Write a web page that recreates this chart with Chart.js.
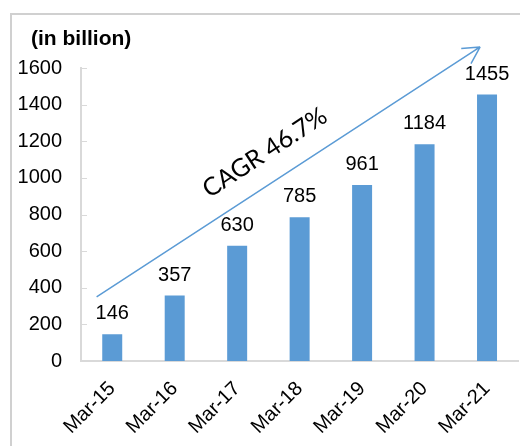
<!DOCTYPE html>
<html lang="en">

<head>
    <meta charset="UTF-8">
    <title>CAGR 46.7%</title>
    <script src="https://cdn.jsdelivr.net/npm/chart.js"></script>
    <style>
        body {
            margin: 0;
            background: #fff;
            overflow: hidden;
        }

        .quadro {
            position: absolute;
            left: 10px;
            top: 13px;
            width: 520px;
            height: 440px;
            border-top: 2px solid #d0d0d0;
            border-left: 2px solid #d0d0d0;
        }

        .grafico {
            position: relative;
            width: 520px;
            height: 446px;
        }
    </style>
</head>

<body>
    <div class="quadro"></div>
    <div class="grafico">
        <canvas id="myChart"></canvas>
    </div>
    <script>
        const anos = ['Mar-15', 'Mar-16', 'Mar-17', 'Mar-18', 'Mar-19', 'Mar-20', 'Mar-21'];
        const valores = [146, 357, 630, 785, 961, 1184, 1455];
        const ticksY = [0, 200, 400, 600, 800, 1000, 1200, 1400, 1600];
        const titulo = '(in billion)';
        const textoCagr = 'CAGR 46.7%';

        const azul = '#5b9bd5';
        const cinza = '#d9d9d9';
        const fonte = '"Liberation Sans", Arial, sans-serif';

        // seta do CAGR, em coordenadas do grafico (indice da categoria, valor)
        const setaInicio = { x: -0.25, y: 350 };
        const setaFim = { x: 5.89, y: 1715 };

        const extras = {
            id: 'extras',
            afterDraw(chart) {
                const ctx = chart.ctx;
                const x = chart.scales.x;
                const y = chart.scales.y;
                ctx.save();

                // tracinhos do eixo y, para dentro
                ctx.strokeStyle = cinza;
                ctx.lineWidth = 1;
                ticksY.forEach(v => {
                    const py = Math.round(y.getPixelForValue(v)) + 0.5;
                    ctx.beginPath();
                    ctx.moveTo(x.left, py);
                    ctx.lineTo(x.left + 6, py);
                    ctx.stroke();
                });

                // valores em cima das barras
                ctx.fillStyle = '#000';
                ctx.font = '20px ' + fonte;
                ctx.textAlign = 'center';
                ctx.textBaseline = 'alphabetic';
                chart.getDatasetMeta(0).data.forEach((bar, i) => {
                    ctx.fillText(valores[i], bar.x, bar.y - 15);
                });

                // titulo
                ctx.font = 'bold 21px ' + fonte;
                ctx.textAlign = 'left';
                ctx.fillText(titulo, 31, 45);

                // seta
                const x0 = x.getPixelForValue(setaInicio.x);
                const y0 = y.getPixelForValue(setaInicio.y);
                const x1 = x.getPixelForValue(setaFim.x);
                const y1 = y.getPixelForValue(setaFim.y);
                const ang = Math.atan2(y1 - y0, x1 - x0);
                ctx.strokeStyle = azul;
                ctx.lineWidth = 1.5;
                ctx.beginPath();
                ctx.moveTo(x0, y0);
                ctx.lineTo(x1, y1);
                [-0.49, 0.49].forEach(d => {
                    ctx.moveTo(x1, y1);
                    ctx.lineTo(x1 - 19 * Math.cos(ang + d), y1 - 19 * Math.sin(ang + d));
                });
                ctx.stroke();

                // texto do CAGR
                const t = 0.48;
                const off = 29;
                const cx = x0 + (x1 - x0) * t + off * Math.sin(ang);
                const cy = y0 + (y1 - y0) * t - off * Math.cos(ang);
                ctx.translate(cx, cy);
                ctx.rotate(ang);
                ctx.font = '25px Lato, "Open Sans", sans-serif';
                ctx.textAlign = 'center';
                ctx.textBaseline = 'middle';
                ctx.fillText(textoCagr, 0, 0);
                ctx.restore();
            }
        };

        const data = {
            labels: anos,
            datasets: [{
                data: valores,
                backgroundColor: azul,
                barPercentage: 0.32,
                categoryPercentage: 1.0
            }]
        };

        const config = {
            type: 'bar',
            data: data,
            options: {
                responsive: true,
                maintainAspectRatio: false,
                animation: false,
                events: [],
                layout: {
                    padding: { top: 68, left: 0, right: 0, bottom: 0 }
                },
                plugins: {
                    legend: { display: false },
                    tooltip: { enabled: false }
                },
                scales: {
                    x: {
                        grid: { display: false, drawTicks: false },
                        border: { display: true, color: cinza, width: 2 },
                        ticks: {
                            color: '#000',
                            font: { family: fonte, size: 20 },
                            minRotation: 45,
                            maxRotation: 45,
                            padding: 16
                        },
                        afterFit(scale) {
                            scale.height = 85;
                        }
                    },
                    y: {
                        min: 0,
                        max: 1600,
                        grid: { display: false, drawTicks: false },
                        border: { display: true, color: cinza, width: 2 },
                        ticks: {
                            color: '#000',
                            font: { family: fonte, size: 20 },
                            padding: 19,
                            callback: v => String(v)
                        },
                        afterBuildTicks(scale) {
                            scale.ticks = ticksY.map(v => ({ value: v }));
                        },
                        afterFit(scale) {
                            scale.width = 81;
                        }
                    }
                }
            },
            plugins: [extras]
        };

        const myChart = new Chart(document.getElementById('myChart'), config);
    </script>
</body>

</html>
